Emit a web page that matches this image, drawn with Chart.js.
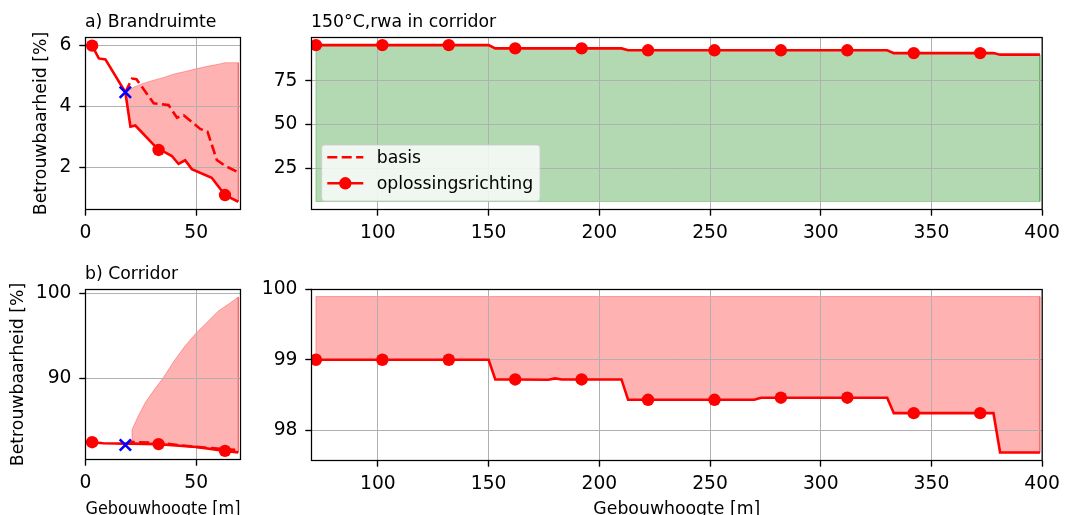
<!DOCTYPE html>
<html>
<head>
<meta charset="utf-8">
<script src="https://cdn.jsdelivr.net/npm/chart.js@4.4.1/dist/chart.umd.min.js"></script>
<style>
  html, body { margin: 0; padding: 0; background: #fff; overflow: hidden; width: 1066px; height: 515px; }
  canvas { position: absolute; }
</style>
</head>
<body>
<canvas id="pa"></canvas>
<canvas id="pb"></canvas>
<canvas id="pc"></canvas>
<canvas id="pd"></canvas>
<script>
// ---------- data ----------
// a) Brandruimte (building height 0-70 m)
const brandOplosX  = [3, 6, 9, 18, 20.3, 22.5, 33, 36, 39, 42, 45, 48, 57, 63, 69];
const brandOplosY  = [5.98, 5.56, 5.53, 4.45, 3.32, 3.36, 2.56, 2.48, 2.36, 2.10, 2.22, 1.93, 1.65, 1.08, 0.86];
const brandBasisX  = [18, 21, 23, 30.8, 37.5, 41.3, 44.3, 51.8, 55.1, 59.3, 63, 69];
const brandBasisY  = [4.45, 4.90, 4.88, 4.09, 4.03, 3.62, 3.70, 3.25, 3.16, 2.23, 2.04, 1.83];
const brandBovenX  = [18, 22, 26, 30, 35, 40, 45, 50, 55, 60, 63, 69];
const brandBovenY  = [4.45, 4.62, 4.74, 4.83, 4.93, 5.05, 5.13, 5.22, 5.30, 5.37, 5.42, 5.42];
const brandKruis   = [18, 4.45];

// b) Corridor (building height 0-70 m)
const gangOplosX   = [3, 8, 18, 21, 33, 50, 63, 69];
const gangOplosY   = [82.42, 82.30, 82.25, 82.25, 82.20, 81.85, 81.40, 81.22];
const gangBasisX   = [18, 21, 33, 45, 55, 63, 69];
const gangBasisY   = [82.10, 82.45, 82.35, 82.00, 81.75, 81.60, 81.50];
const gangBovenX   = [21, 21, 24, 27, 31, 35, 40, 45, 50, 55, 60, 65, 69];
const gangBovenY   = [82.25, 83.9, 85.6, 87.1, 88.6, 90.0, 92.0, 93.8, 95.3, 96.6, 97.9, 98.8, 99.55];
const gangKruis    = [18, 82.09];

// 150°C, rwa in corridor (building height 70-400 m)
const rwaX         = [72, 102, 132, 150, 153, 162, 192, 210, 213, 222, 252, 282, 312, 330, 333, 342, 372, 378, 381, 399];
const rwaBrandY    = [95.5, 95.5, 95.5, 95.5, 93.6, 93.6, 93.6, 93.6, 92.5, 92.5, 92.5, 92.5, 92.5, 92.5, 90.9, 90.9, 90.9, 90.9, 90.0, 90.0];
const rwaBrandOnder = 5.8;
const rwaGangX     = [72, 102, 132, 150, 153, 162, 177, 180, 183, 192, 210, 213, 222, 252, 270, 273, 282, 312, 330, 333, 342, 372, 378, 381, 399];
const rwaGangY     = [99.0, 99.0, 99.0, 99.0, 98.72, 98.72, 98.715, 98.735, 98.72, 98.72, 98.72, 98.43, 98.43, 98.43, 98.43, 98.46, 98.46, 98.46, 98.46, 98.24, 98.24, 98.24, 98.24, 97.68, 97.68];
const rwaGangBoven = 99.9;

// marker positions (every 30 m)
const markersLinks  = [3, 33, 63];
const markersRechts = [72, 102, 132, 162, 192, 222, 252, 282, 312, 342, 372];

// axis ticks
const ticksXLinks   = [0, 50];
const ticksXRechts  = [100, 150, 200, 250, 300, 350, 400];
const ticksYBrand   = [2, 4, 6];
const ticksYGang    = [90, 100];
const ticksYRwaBrand = [25, 50, 75];
const ticksYRwaGang  = [98, 99, 100];

// ---------- helpers ----------
const FONT = 'DejaVu Sans';
Chart.defaults.font.family = FONT;
Chart.defaults.color = '#000';
const TICK_FONT = { family: FONT, size: 18.7 };
const LABEL_FONT = { family: FONT, size: 17.3 };
const RED = '#ff0000';
const RED_FILL = 'rgba(255,0,0,0.3)';
const GREEN_FILL = 'rgba(0,128,0,0.3)';

const pts = (xs, ys) => xs.map((x, i) => ({ x, y: ys[i] }));

// closed outline: upper edge left→right, lower edge right→left
function outline(upper, lower) {
  const p = upper.slice();
  for (let i = lower.length - 1; i >= 0; i--) p.push(lower[i]);
  p.push(upper[0]);
  return p;
}

function scale(min, max, tickVals, fitProp, fitVal, extra) {
  return Object.assign({
    type: 'linear', min, max, offset: false,
    afterBuildTicks: s => { s.ticks = tickVals.map(v => ({ value: v })); },
    afterFit: s => { s[fitProp] = fitVal; },
    grid: { color: '#b0b0b0', lineWidth: 1, tickColor: '#000', tickLength: 6, tickWidth: 1.2 },
    border: { display: false },
    ticks: { font: TICK_FONT, color: '#000', padding: 8, autoSkip: false, maxRotation: 0, minRotation: 0,
             callback: v => String(v) }
  }, extra || {});
}

// re-draw grid over a filled area (grid sits between fill and lines)
const regridPlugin = {
  id: 'regrid',
  afterDatasetDraw(chart, args) {
    const ds = chart.data.datasets[args.index];
    if (ds && ds.regrid) {
      Object.values(chart.scales).forEach(s => s.drawGrid(chart.chartArea));
    }
  }
};

// box around the plotting area
const framePlugin = {
  id: 'frame',
  afterDatasetsDraw(chart) {
    const { ctx, chartArea: a } = chart;
    ctx.save();
    ctx.strokeStyle = '#000';
    ctx.lineWidth = 1.25;
    ctx.strokeRect(a.left, a.top, a.right - a.left, a.bottom - a.top);
    ctx.restore();
  }
};

// left-aligned panel title
const panelTitlePlugin = {
  id: 'panelTitle',
  afterDraw(chart, args, opts) {
    if (!opts.text) return;
    const { ctx, chartArea: a } = chart;
    ctx.save();
    ctx.font = `${LABEL_FONT.size}px "${FONT}"`;
    ctx.fillStyle = '#000';
    ctx.textAlign = 'left';
    ctx.textBaseline = 'alphabetic';
    ctx.fillText(opts.text, a.left - 0.5, a.top - 10.3);
    ctx.restore();
  }
};

// legend with line + marker handles
const lineLegendPlugin = {
  id: 'lineLegend',
  afterDraw(chart, args, opts) {
    if (!opts.show) return;
    const { ctx, chartArea: a } = chart;
    const bx = a.left + 10.2, by = a.top + 107.5, bw = 218.3, bh = 56;
    ctx.save();
    ctx.beginPath();
    ctx.roundRect(bx, by, bw, bh, 3);
    ctx.fillStyle = 'rgba(255,255,255,0.8)';
    ctx.fill();
    ctx.strokeStyle = 'rgba(204,204,204,0.8)';
    ctx.lineWidth = 1;
    ctx.stroke();

    const hx0 = a.left + 15.8, hx1 = a.left + 51.8, tx = a.left + 65.2;
    const y1 = a.top + 119.8, y2 = a.top + 145.8;
    ctx.strokeStyle = RED;
    ctx.lineWidth = 2.6;
    ctx.setLineDash([10, 4.4]);
    ctx.beginPath(); ctx.moveTo(hx0, y1); ctx.lineTo(hx1, y1); ctx.stroke();
    ctx.setLineDash([]);
    ctx.beginPath(); ctx.moveTo(hx0, y2); ctx.lineTo(hx1, y2); ctx.stroke();
    ctx.fillStyle = RED;
    ctx.beginPath(); ctx.arc((hx0 + hx1) / 2, y2, 6.2, 0, Math.PI * 2); ctx.fill();

    ctx.fillStyle = '#000';
    ctx.font = `${LABEL_FONT.size}px "${FONT}"`;
    ctx.textAlign = 'left';
    ctx.textBaseline = 'middle';
    ctx.fillText('basis', tx, y1 + 1);
    ctx.fillText('oplossingsrichting', tx, y2 + 1);
    ctx.restore();
  }
};

const GEO = {
  pa: { left: 0,   top: 0,   w: 270, h: 250, yW: 85.5, padT: 37.5, padR: 29.5, xH: 40.5 },
  pb: { left: 250, top: 0,   w: 816, h: 250, yW: 61.5, padT: 37.5, padR: 20.5, xH: 40.5 },
  pc: { left: 0,   top: 260, w: 270, h: 262, yW: 85.5, padT: 29.5, padR: 29.5, xH: 62.5 },
  pd: { left: 250, top: 260, w: 816, h: 262, yW: 61.5, padT: 29.5, padR: 20.5, xH: 61.5 },
};

function solidSet(data, marks) {
  return {
    data, borderColor: RED, borderWidth: 2.6, fill: false, tension: 0,
    pointRadius: c => (c.raw && marks.includes(c.raw.x)) ? 6.2 : 0,
    pointHoverRadius: c => (c.raw && marks.includes(c.raw.x)) ? 6.2 : 0,
    pointBackgroundColor: RED, pointBorderColor: RED, pointBorderWidth: 0
  };
}
function dashedSet(data) {
  return { data, borderColor: RED, borderWidth: 2.6, borderDash: [10, 4.4], fill: false, tension: 0, pointRadius: 0 };
}
function areaSet(data, color) {
  return { data, fill: 'shape', backgroundColor: color, borderColor: color, borderWidth: 1, tension: 0, pointRadius: 0, regrid: true };
}
function crossSet(p) {
  return { data: [{ x: p[0], y: p[1] }], showLine: false, pointStyle: 'crossRot', pointRadius: 8,
           pointBorderColor: '#0000ff', pointBorderWidth: 2.6, pointBackgroundColor: '#0000ff' };
}

function panel(id, datasets, xs, ys, title, extraPlugins) {
  const g = GEO[id];
  const cv = document.getElementById(id);
  cv.width = g.w; cv.height = g.h;
  cv.style.left = g.left + 'px'; cv.style.top = g.top + 'px';
  cv.style.width = g.w + 'px'; cv.style.height = g.h + 'px';
  return new Chart(cv, {
    type: 'line',
    data: { datasets },
    options: {
      responsive: false, animation: false, devicePixelRatio: 1, events: [],
      parsing: true,
      layout: { padding: { left: 0, top: g.padT, right: g.padR, bottom: 0 } },
      scales: { x: xs, y: ys },
      plugins: {
        legend: { display: false }, tooltip: { enabled: false },
        panelTitle: { text: title },
        lineLegend: extraPlugins || {}
      }
    },
    plugins: [regridPlugin, framePlugin, panelTitlePlugin, lineLegendPlugin]
  });
}

const yTitle = (pad) => ({ display: true, text: 'Betrouwbaarheid [%]', font: LABEL_FONT, color: '#000', padding: { top: pad, bottom: 0 } });
const xTitle = { display: true, text: 'Gebouwhoogte [m]', font: LABEL_FONT, color: '#000', padding: { top: 0, bottom: 2.6 } };

// ---------- a) Brandruimte ----------
{
  const opl = pts(brandOplosX, brandOplosY);
  const area = outline(pts(brandBovenX, brandBovenY), opl.filter(p => p.x >= brandBovenX[0]).slice(1));
  panel('pa', [
    crossSet(brandKruis),
    solidSet(opl, markersLinks),
    dashedSet(pts(brandBasisX, brandBasisY)),
    areaSet(area, RED_FILL)
  ],
  scale(0, 70, ticksXLinks, 'height', GEO.pa.xH, { ticks: { font: TICK_FONT, color: '#000', padding: 6, autoSkip: false, maxRotation: 0, callback: v => String(v) } }),
  scale(0.607, 6.246, ticksYBrand, 'width', GEO.pa.yW, { title: yTitle(31.1) }),
  'a) Brandruimte');
}

// ---------- 150°C, rwa in corridor: brandruimte ----------
{
  const opl = pts(rwaX, rwaBrandY);
  const onder = [{ x: rwaX[0], y: rwaBrandOnder }, { x: rwaX[rwaX.length - 1], y: rwaBrandOnder }];
  const area = outline(opl, onder);
  panel('pb', [
    solidSet(opl, markersRechts),
    areaSet(area, GREEN_FILL)
  ],
  scale(70, 400, ticksXRechts, 'height', GEO.pb.xH, { ticks: { font: TICK_FONT, color: '#000', padding: 6, autoSkip: false, maxRotation: 0, callback: v => String(v) } }),
  scale(1.2, 99.85, ticksYRwaBrand, 'width', GEO.pb.yW),
  '150°C,rwa in corridor', { show: true });
}

// ---------- b) Corridor ----------
{
  const opl = pts(gangOplosX, gangOplosY);
  const area = outline(pts(gangBovenX, gangBovenY), opl.filter(p => p.x > gangBovenX[0]));
  panel('pc', [
    crossSet(gangKruis),
    solidSet(opl, markersLinks),
    dashedSet(pts(gangBasisX, gangBasisY)),
    areaSet(area, RED_FILL)
  ],
  scale(0, 70, ticksXLinks, 'height', GEO.pc.xH, { title: xTitle, ticks: { font: TICK_FONT, color: '#000', padding: 6, autoSkip: false, maxRotation: 0, callback: v => String(v) } }),
  scale(80.38, 100.45, ticksYGang, 'width', GEO.pc.yW, { title: yTitle(8.1) }),
  'b) Corridor');
}

// ---------- 150°C, rwa in corridor: corridor ----------
{
  const opl = pts(rwaGangX, rwaGangY);
  const boven = [{ x: rwaGangX[0], y: rwaGangBoven }, { x: rwaGangX[rwaGangX.length - 1], y: rwaGangBoven }];
  const area = outline(boven, opl);
  panel('pd', [
    solidSet(opl, markersRechts),
    areaSet(area, RED_FILL)
  ],
  scale(70, 400, ticksXRechts, 'height', GEO.pd.xH, { title: xTitle, ticks: { font: TICK_FONT, color: '#000', padding: 6, autoSkip: false, maxRotation: 0, callback: v => String(v) } }),
  scale(97.566, 100.0, ticksYRwaGang, 'width', GEO.pd.yW),
  '');
}
</script>
</body>
</html>
